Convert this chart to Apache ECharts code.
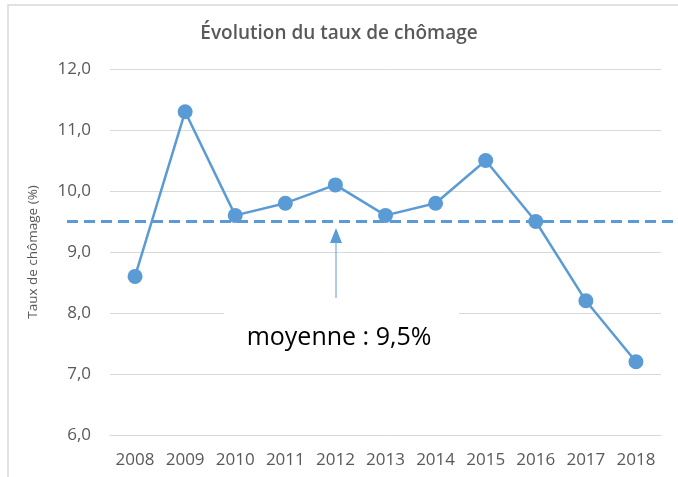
<!DOCTYPE html>
<html>
<head>
<meta charset="utf-8">
<script src="https://cdn.jsdelivr.net/npm/echarts@6/dist/echarts.min.js"></script>
<style>
  html, body { margin: 0; padding: 0; background: #fff; }
  #chart { width: 678px; height: 477px; }
</style>
</head>
<body>
<div id="chart"></div>
<script>
const years = ['2008', '2009', '2010', '2011', '2012', '2013', '2014', '2015', '2016', '2017', '2018'];
const rates = [8.6, 11.3, 9.6, 9.8, 10.1, 9.6, 9.8, 10.5, 9.5, 8.2, 7.2];
const average = 9.5;
const averageLabel = 'moyenne : 9,5%';

const BLUE = '#5b9bd5';
const GREY = '#595959';
const FONT = '"Open Sans", "Liberation Sans", sans-serif';

const chart = echarts.init(document.getElementById('chart'));

chart.setOption({
  backgroundColor: '#fff',
  animation: false,
  title: {
    text: 'Évolution du taux de chômage',
    left: 'center', top: 19,
    textStyle: { fontFamily: FONT, fontSize: 19, fontWeight: 600, color: GREY },
  },
  grid: { left: 110, right: 17, top: 69, bottom: 42 },
  xAxis: {
    type: 'category',
    data: years,
    boundaryGap: true,
    axisLine: { lineStyle: { color: '#d9d9d9' } },
    axisTick: { show: false },
    axisLabel: { color: GREY, fontFamily: FONT, fontSize: 17, margin: 17, interval: 0 },
  },
  yAxis: {
    type: 'value',
    min: 6, max: 12, interval: 1,
    name: 'Taux de chômage (%)',
    nameLocation: 'middle',
    nameRotate: 90,
    nameGap: 70,
    nameTextStyle: { color: GREY, fontFamily: FONT, fontSize: 13.5 },
    axisLine: { show: false },
    axisTick: { show: false },
    axisLabel: {
      color: GREY, fontFamily: FONT, fontSize: 17, margin: 19,
      formatter: (v) => v.toFixed(1).replace('.', ','),
    },
    splitLine: { lineStyle: { color: '#d9d9d9', width: 1 } },
  },
  series: [{
    type: 'line',
    data: rates,
    clip: false,
    symbol: 'circle',
    symbolSize: 15,
    lineStyle: { color: BLUE, width: 2.5 },
    itemStyle: { color: BLUE },
    markLine: {
      silent: true,
      symbol: 'none',
      label: { show: false },
      lineStyle: { color: BLUE, width: 3, type: [11, 6] },
      data: [[{ x: 67, yAxis: average }, { x: 678, yAxis: average }]],
    },
  }],
  graphic: [
    {
      type: 'rect', z: 100,
      shape: { x: 8, y: 5, width: 700, height: 500 },
      style: { fill: 'none', stroke: '#d9d9d9', lineWidth: 1.5 },
    },
    {
      type: 'line', z: 100,
      shape: { x1: 336, y1: 298, x2: 336, y2: 240 },
      style: { stroke: BLUE, lineWidth: 1 },
    },
    {
      type: 'polygon', z: 100,
      shape: { points: [[336, 228], [330, 243], [342, 243]] },
      style: { fill: BLUE },
    },
    {
      type: 'rect', z: 100,
      shape: { x: 224, y: 306, width: 235, height: 62 },
      style: { fill: '#fff' },
    },
    {
      type: 'text', z: 101,
      x: 339, y: 338,
      style: {
        text: averageLabel,
        fontFamily: FONT, fontSize: 25, fill: '#000',
        align: 'center', verticalAlign: 'middle',
      },
    },
  ],
});
</script>
</body>
</html>
